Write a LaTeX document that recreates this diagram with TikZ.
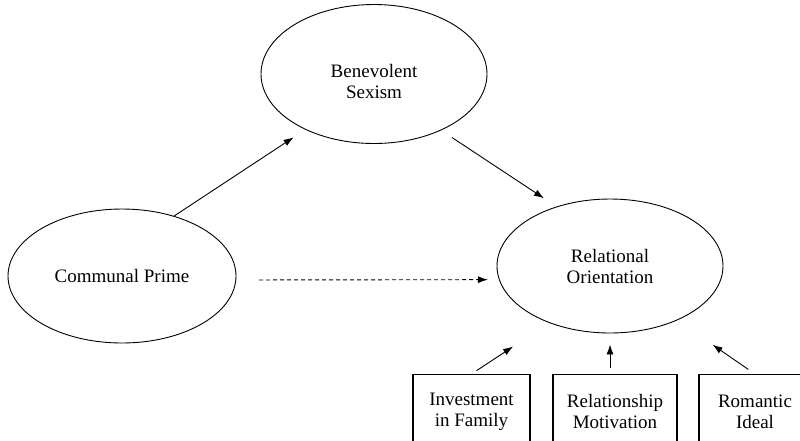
\documentclass[tikz,border=0pt]{standalone}
\usepackage{fontspec}
\setmainfont{Liberation Serif}
\usetikzlibrary{shapes.geometric, arrows.meta}
\tikzset{>={Latex[length=10pt,width=7pt]}}
\tikzset{
  latent/.style={draw, ellipse, line width=0.9pt, inner sep=0pt, align=center},
  indicator/.style={draw, rectangle, line width=1.2pt, anchor=north, minimum height=74pt, inner sep=0pt, align=center}
}

\begin{document}
\begin{tikzpicture}[x=1pt, y=-1pt, font=\fontsize{19}{21}\selectfont, line width=0.9pt]
\useasboundingbox (0,0) rectangle (800,440);
\clip (0,0) rectangle (800,440);
\node[latent, minimum width=226pt, minimum height=139pt] (bs) at (374,74) {};
\node[align=center] (bstext) at (374,81) {Benevolent\\Sexism};
\node[latent, minimum width=228pt, minimum height=134pt] (cp) at (122,276) {Communal Prime};
\node[latent, minimum width=226pt, minimum height=134pt] (ro) at (610,266) {Relational\\Orientation};
\node[indicator, minimum width=117pt] (inv) at (471.5,374) {Investment\\in Family};
\node[indicator, minimum width=124pt] (rel) at (615,374) {Relationship\\Motivation};
\node[indicator, minimum width=112pt] (rom) at (755,374) {Romantic\\Ideal};
\draw[->, shorten >=14pt] (cp.49) -- (bs.219);
\draw[->, shorten <=13pt, shorten >=15pt] (bs.-40) -- (ro.132);
\draw[->, dash pattern=on 4pt off 3pt, shorten <=23pt, shorten >=11pt] (cp.-2) -- (ro.187);
\draw[->, shorten <=6pt, shorten >=43pt] (inv.north) -- (ro.223);
\draw[->, shorten <=6pt, shorten >=11pt] (ro.south |- rel.north) -- (ro.south);
\draw[->, shorten <=8pt, shorten >=43pt] (rom.north) -- (ro.-39);
\end{tikzpicture}
\end{document}
